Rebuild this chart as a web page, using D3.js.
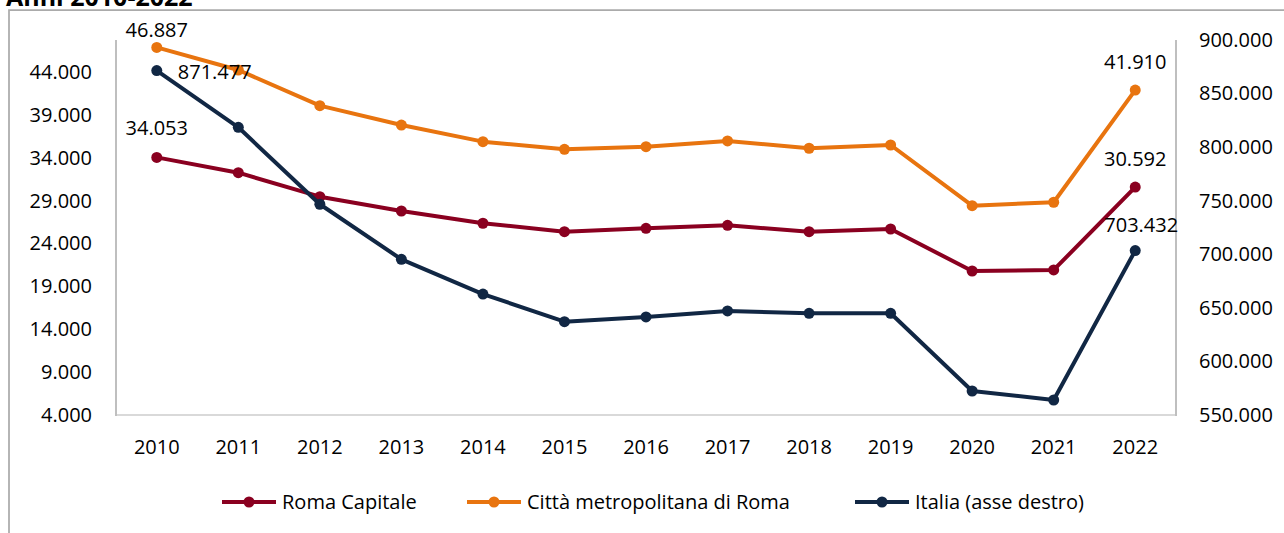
<!DOCTYPE html>
<html>
<head>
<meta charset="utf-8">
<script src="https://cdn.jsdelivr.net/npm/d3@7"></script>
<style>
  body { margin: 0; background: #fff; }
  svg text { font-family: "Open Sans", "Liberation Sans", sans-serif; fill: #000; }
</style>
</head>
<body>
<script>
// years on the x axis
var years = ["2010","2011","2012","2013","2014","2015","2016","2017","2018","2019","2020","2021","2022"];

// series values (ends are labelled)
var romaCapitale = [34053, 32270, 29470, 27800, 26370, 25390, 25780, 26130, 25390, 25700, 20800, 20920, 30592];
var cittaMetro   = [46887, 44250, 40090, 37830, 35890, 35000, 35300, 35970, 35120, 35500, 28420, 28820, 41910];
var italia       = [871477, 818500, 746700, 695300, 662900, 637100, 641500, 647100, 644900, 644900, 572400, 564000, 703432];

// tick labels
var leftTicks  = [4000, 9000, 14000, 19000, 24000, 29000, 34000, 39000, 44000];
var rightTicks = [550000, 600000, 650000, 700000, 750000, 800000, 850000, 900000];

var seriesNames = ["Roma Capitale", "Città metropolitana di Roma", "Italia (asse destro)"];

var w = 1284, h = 533;
var plot = { left: 116, right: 1176, top: 40, bottom: 415 };

var it = d3.formatLocale({ decimal: ",", thousands: ".", grouping: [3], currency: ["€", ""] });
var fmt = it.format(",d");

var svg = d3.select("body").append("svg")
  .attr("width", w)
  .attr("height", h);

// title (cut off at the top)
svg.append("text")
  .attr("x", 6).attr("y", 6)
  .attr("font-size", "25px")
  .attr("font-weight", "bold")
  .text("Anni 2010-2022");

// outer frame
svg.append("path")
  .attr("d", "M9,540 L9,10 L1290,10")
  .attr("fill", "none")
  .attr("stroke", "#ababab")
  .attr("stroke-width", 1.75);

var x = d3.scaleBand().domain(years).range([plot.left, plot.right]);
var yL = d3.scaleLinear().domain([4000, 47750]).range([plot.bottom, plot.top]);
var yR = d3.scaleLinear().domain([550000, 900000]).range([plot.bottom, plot.top]);

// plot area borders
svg.append("line")
  .attr("x1", plot.left).attr("x2", plot.right)
  .attr("y1", plot.bottom).attr("y2", plot.bottom)
  .attr("stroke", "#d9d9d9").attr("stroke-width", 2);
svg.append("line")
  .attr("x1", plot.left).attr("x2", plot.left)
  .attr("y1", plot.top).attr("y2", plot.bottom + 1)
  .attr("stroke", "#bfbfbf").attr("stroke-width", 2);
svg.append("line")
  .attr("x1", plot.right).attr("x2", plot.right)
  .attr("y1", plot.top).attr("y2", plot.bottom + 1)
  .attr("stroke", "#bfbfbf").attr("stroke-width", 2);

// axes (text only)
var axL = svg.append("g").attr("transform", "translate(" + (plot.left - 24) + ",0)")
  .call(d3.axisLeft(yL).tickValues(leftTicks).tickFormat(fmt).tickSize(0).tickPadding(0));
var axR = svg.append("g").attr("transform", "translate(" + (plot.right + 23) + ",0)")
  .call(d3.axisRight(yR).tickValues(rightTicks).tickFormat(fmt).tickSize(0).tickPadding(0));
var axX = svg.append("g").attr("transform", "translate(0," + (plot.bottom + 25) + ")")
  .call(d3.axisBottom(x).tickSize(0).tickPadding(0));
[axL, axR, axX].forEach(function(a) {
  a.select(".domain").remove();
  a.selectAll("text")
    .attr("font-size", "20px")
    .attr("font-family", "Open Sans, Liberation Sans, sans-serif")
    .attr("fill", "#000");
});
axX.selectAll("text").attr("dy", "0.71em");

var series = [
  { name: seriesNames[0], values: romaCapitale, y: yL, color: "#8a0020",
    labels: [{ i: 0, dx: 0, dy: -22, anchor: "middle" }, { i: 12, dx: 0, dy: -21, anchor: "middle" }] },
  { name: seriesNames[1], values: cittaMetro, y: yL, color: "#e8740f",
    labels: [{ i: 0, dx: 0, dy: -10, anchor: "middle" }, { i: 12, dx: 0, dy: -21, anchor: "middle" }] },
  { name: seriesNames[2], values: italia, y: yR, color: "#112744",
    labels: [{ i: 0, dx: 21, dy: 8, anchor: "start" }, { i: 12, dx: 6, dy: -19, anchor: "middle" }] }
];

var cx = function(i) { return x(years[i]) + x.bandwidth() / 2; };

series.forEach(function(s) {
  var line = d3.line()
    .x(function(d, i) { return cx(i); })
    .y(function(d) { return s.y(d); });

  svg.append("path")
    .datum(s.values)
    .attr("d", line)
    .attr("fill", "none")
    .attr("stroke", s.color)
    .attr("stroke-width", 4)
    .attr("stroke-linejoin", "round");

  svg.selectAll(null)
    .data(s.values)
    .enter()
    .append("circle")
    .attr("cx", function(d, i) { return cx(i); })
    .attr("cy", function(d) { return s.y(d); })
    .attr("r", 5.5)
    .attr("fill", s.color);

  s.labels.forEach(function(l) {
    svg.append("text")
      .attr("x", cx(l.i) + l.dx)
      .attr("y", s.y(s.values[l.i]) + l.dy)
      .attr("text-anchor", l.anchor)
      .attr("font-size", "20px")
      .text(fmt(s.values[l.i]));
  });
});

// legend
var legendX = [222, 467, 855];
var legend = svg.selectAll(".leg")
  .data(series)
  .enter()
  .append("g")
  .attr("class", "leg")
  .attr("transform", function(d, i) { return "translate(" + legendX[i] + ",502)"; });

legend.append("line")
  .attr("x1", 0).attr("x2", 54)
  .attr("stroke", function(d) { return d.color; })
  .attr("stroke-width", 4);
legend.append("circle")
  .attr("cx", 27).attr("r", 5.5)
  .attr("fill", function(d) { return d.color; });
legend.append("text")
  .attr("x", 60).attr("y", 7)
  .attr("font-size", "20px")
  .text(function(d) { return d.name; });
</script>
</body>
</html>
